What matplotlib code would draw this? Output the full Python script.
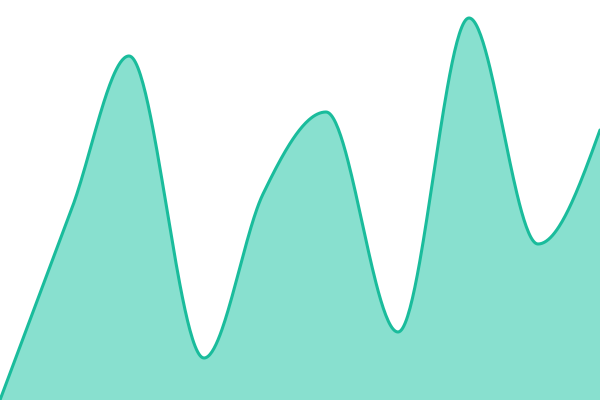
import numpy as np
import matplotlib
matplotlib.use("Agg")
import matplotlib.pyplot as plt

# data
xs = [0, 72, 129, 204, 263, 326, 398, 469, 538, 600]
ys = [0, 48, 86, 10.5, 51.5, 72, 17, 95.5, 39, 67.5]

line_color = "#1abc9c"


def monotone_x(x, y, n=60):
    # same as d3.curveMonotoneX
    x = np.asarray(x, float)
    y = np.asarray(y, float)
    h = np.diff(x)
    s = np.diff(y) / h
    m = np.zeros(len(x))
    for i in range(1, len(x) - 1):
        p = (s[i - 1] * h[i] + s[i] * h[i - 1]) / (h[i - 1] + h[i])
        m[i] = (np.sign(s[i - 1]) + np.sign(s[i])) * min(abs(s[i - 1]), abs(s[i]), 0.5 * abs(p))
    m[0] = (3 * s[0] - m[1]) / 2
    m[-1] = (3 * s[-1] - m[-2]) / 2
    px, py = [], []
    for i in range(len(x) - 1):
        t = np.linspace(0, 1, n)
        h00 = 2 * t**3 - 3 * t**2 + 1
        h10 = t**3 - 2 * t**2 + t
        h01 = -2 * t**3 + 3 * t**2
        h11 = t**3 - t**2
        px.extend(x[i] + t * h[i])
        py.extend(h00 * y[i] + h10 * h[i] * m[i] + h01 * y[i + 1] + h11 * h[i] * m[i + 1])
    return np.array(px), np.array(py)


cx, cy = monotone_x(xs, ys)

fig = plt.figure(figsize=(6, 4), dpi=100)
ax = fig.add_axes([0, 0, 1, 1])
ax.fill_between(cx, 0, cy, color="#88e0cf", linewidth=0)
ax.plot(cx, cy, color=line_color, linewidth=2.2, solid_capstyle="round")
ax.set_xlim(0, 600)
ax.set_ylim(0, 100)
ax.axis("off")
fig.savefig("out.png", dpi=100)
